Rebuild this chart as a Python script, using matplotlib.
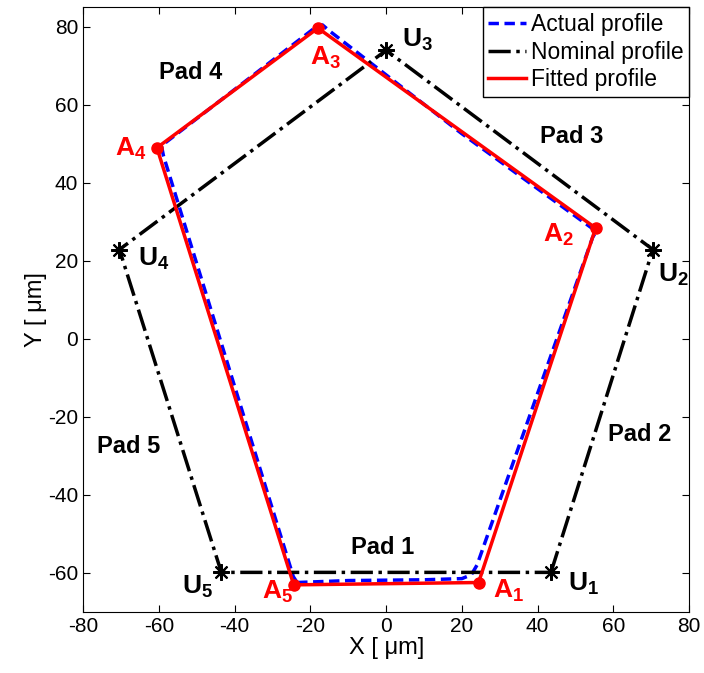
import numpy as np
import matplotlib
matplotlib.use("Agg")
import matplotlib.pyplot as plt

plt.rcParams['font.family'] = ['Liberation Sans', 'DejaVu Sans']
plt.rcParams['mathtext.fontset'] = 'custom'
plt.rcParams['mathtext.rm'] = 'Liberation Sans'
plt.rcParams['mathtext.bf'] = 'Liberation Sans:bold'
plt.rcParams['mathtext.it'] = 'Liberation Sans:italic'
plt.rcParams['axes.unicode_minus'] = False

# nominal pad corners U1..U5 (regular pentagon)
nominal_x = [43.5, 70.4, 0.0, -70.4, -43.5]
nominal_y = [-59.9, 22.9, 74.0, 22.9, -59.9]

# fitted corners A1..A5
fitted_x = [24.4, 55.3, -18.0, -60.5, -24.4]
fitted_y = [-62.5, 28.4, 79.7, 49.0, -63.1]

# measured profile
actual_x = [-23.5, -10.0, 10.0, 20.0, 22.5, 24.0, 54.5, 55.5, 54.0, 20.0,
            -15.0, -16.8, -18.5, -58.0, -59.3, -58.8, -24.5, -23.5]
actual_y = [-62.5, -62.0, -61.8, -61.5, -60.5, -58.0, 26.0, 27.6, 28.6, 52.6,
            79.0, 80.5, 80.0, 50.5, 49.5, 47.0, -61.0, -62.5]

u_labels = ['$\\mathbf{U_%d}$' % (i + 1) for i in range(5)]
u_label_pos = [(48, -64.7), (71.8, 14.5), (4.2, 75), (-65.4, 18.7), (-54, -65.5)]
a_labels = ['$\\mathbf{A_%d}$' % (i + 1) for i in range(5)]
a_label_pos = [(28.3, -66.3), (41.3, 25), (-20, 70.4), (-71.6, 46.9), (-32.8, -66.8)]
pad_labels = ['Pad 1', 'Pad 2', 'Pad 3', 'Pad 4', 'Pad 5']
pad_pos = [(-0.8, -53.6), (67, -24.6), (49, 51.8), (-51.6, 68.2), (-68, -27.7)]

fig = plt.figure(figsize=(7.04, 6.73), dpi=100)
ax = fig.add_axes([0.118, 0.091, 0.861, 0.898])

ax.plot(actual_x, actual_y, '--', color='blue', lw=2.5, dashes=(3, 1.6),
        label='Actual profile')
ax.plot(nominal_x + nominal_x[:1], nominal_y + nominal_y[:1], '-.', color='black',
        lw=2.5, label='Nominal profile')
ax.plot(fitted_x + fitted_x[:1], fitted_y + fitted_y[:1], '-', color='red',
        lw=2.5, label='Fitted profile')
ax.plot(fitted_x, fitted_y, 'o', color='red', ms=8)
ax.plot(nominal_x, nominal_y, ls='none', marker=(8, 2, 0), color='black',
        ms=12, mew=1.5)

for lab, (x, y) in zip(u_labels, u_label_pos):
    ax.text(x, y, lab, fontsize=19, color='black', ha='left', va='baseline')
for lab, (x, y) in zip(a_labels, a_label_pos):
    ax.text(x, y, lab, fontsize=19, color='red', ha='left', va='baseline')
for lab, (x, y) in zip(pad_labels, pad_pos):
    ax.text(x, y, lab, fontsize=17, fontweight='bold', ha='center', va='center')

ax.set_xlim(-80, 80)
ax.set_ylim(-70, 85)
ax.set_xticks(np.arange(-80, 81, 20))
ax.set_yticks(np.arange(-60, 81, 20))
ax.tick_params(direction='in', top=True, right=True, labelsize=15, length=5)
ax.set_xlabel('X [ μm]', fontsize=17, labelpad=1)
ax.set_ylabel('Y [ μm]', fontsize=17, labelpad=1)

leg = ax.legend(loc='upper right', fontsize=16.5, borderaxespad=0, fancybox=False,
                framealpha=1, edgecolor='black', handlelength=1.65,
                handletextpad=0.2, labelspacing=0.2, borderpad=0.25)
leg.get_frame().set_linewidth(1.0)

fig.savefig('out.png', dpi=100)
